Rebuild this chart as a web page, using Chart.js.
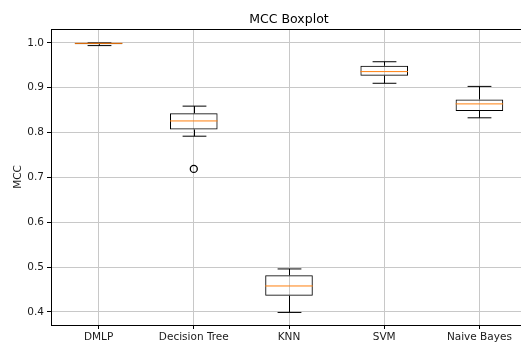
<!DOCTYPE html>
<html>
<head>
<meta charset="utf-8">
<script src="https://cdn.jsdelivr.net/npm/chart.js@4"></script>
<style>
  html, body { margin: 0; padding: 0; background: #fff; overflow: hidden; }
  #wrap { width: 578px; height: 344px; }
</style>
</head>
<body>
<div id="wrap"><canvas id="chart" width="578" height="344"></canvas></div>
<script>
// Data kotak
const labels = ["DMLP", "Decision Tree", "KNN", "SVM", "Naive Bayes"];
const whiskerLow = [0.994, 0.792, 0.399, 0.910, 0.833];
const q1 = [0.997, 0.807, 0.436, 0.927, 0.848];
const median = [0.999, 0.826, 0.458, 0.936, 0.864];
const q3 = [1.000, 0.843, 0.482, 0.949, 0.874];
const whiskerHigh = [1.000, 0.859, 0.496, 0.958, 0.903];
const outliers = [null, 0.719, null, null, null];
const yTicks = [0.4, 0.5, 0.6, 0.7, 0.8, 0.9, 1.0];

const font = "'DejaVu Sans', sans-serif";
Chart.defaults.font.family = font;
Chart.defaults.color = "#1a1a1a";

// Plugin untuk whisker, median dan garis atas
const boxExtras = {
  id: "boxExtras",
  beforeDatasetsDraw(chart) {
    const ctx = chart.ctx;
    const x = chart.scales.x;
    const y = chart.scales.y;
    const meta = chart.getDatasetMeta(0);
    ctx.save();
    ctx.strokeStyle = "#000";
    ctx.lineWidth = 1;
    labels.forEach((_, i) => {
      const cx = Math.round(x.getPixelForValue(i)) + 0.5;
      const half = meta.data[i].width / 2;
      const cap = half / 2;
      const yl = y.getPixelForValue(whiskerLow[i]);
      const yq1 = y.getPixelForValue(q1[i]);
      const yq3 = y.getPixelForValue(q3[i]);
      const yh = y.getPixelForValue(whiskerHigh[i]);
      ctx.beginPath();
      ctx.moveTo(cx, yq3); ctx.lineTo(cx, yh);
      ctx.moveTo(cx, yq1); ctx.lineTo(cx, yl);
      ctx.moveTo(cx - cap, yh); ctx.lineTo(cx + cap, yh);
      ctx.moveTo(cx - cap, yl); ctx.lineTo(cx + cap, yl);
      ctx.stroke();
    });
    ctx.restore();
  },
  afterDatasetsDraw(chart) {
    const ctx = chart.ctx;
    const x = chart.scales.x;
    const y = chart.scales.y;
    const meta = chart.getDatasetMeta(0);
    ctx.save();
    ctx.strokeStyle = "#ff7f0e";
    ctx.lineWidth = 1;
    labels.forEach((_, i) => {
      const cx = x.getPixelForValue(i);
      const half = meta.data[i].width / 2;
      const ym = y.getPixelForValue(median[i]);
      ctx.beginPath();
      ctx.moveTo(cx - half, ym);
      ctx.lineTo(cx + half, ym);
      ctx.stroke();
    });
    // garis atas (spine)
    const area = chart.chartArea;
    ctx.strokeStyle = "#000";
    ctx.beginPath();
    ctx.moveTo(area.left, Math.round(area.top) + 0.5);
    ctx.lineTo(area.right, Math.round(area.top) + 0.5);
    ctx.stroke();
    ctx.restore();
  }
};

new Chart(document.getElementById("chart"), {
  type: "bar",
  data: {
    labels: labels,
    datasets: [
      {
        type: "bar",
        data: labels.map((_, i) => [q1[i], q3[i]]),
        backgroundColor: "rgba(0,0,0,0)",
        borderColor: "#000",
        borderWidth: 1,
        borderSkipped: false,
        barPercentage: 0.5,
        categoryPercentage: 1,
      },
      {
        type: "line",
        data: outliers,
        showLine: false,
        pointStyle: "circle",
        pointRadius: 3.5,
        pointBorderWidth: 1.3,
        pointBorderColor: "#000",
        pointBackgroundColor: "rgba(0,0,0,0)",
      },
    ],
  },
  options: {
    responsive: false,
    animation: false,
    layout: { padding: 0 },
    plugins: {
      legend: { display: false },
      tooltip: { enabled: false },
      title: {
        display: true,
        text: "MCC Boxplot",
        color: "#000",
        font: { size: 12.5, weight: "normal" },
        padding: { top: 12, bottom: 2 },
      },
    },
    scales: {
      x: {
        offset: true,
        grid: { offset: false, color: "#c8c8c8", tickColor: "#000", tickLength: 4 },
        border: { color: "#000", width: 1 },
        ticks: { font: { size: 10.5 }, padding: 2, maxRotation: 0 },
        afterFit: (s) => { s.height = 19; },
      },
      y: {
        min: 0.371,
        max: 1.031,
        grid: { color: "#c8c8c8", tickColor: "#000", tickLength: 4 },
        border: { color: "#000", width: 1 },
        ticks: {
          font: { size: 10.5 },
          padding: 3,
          callback: (v) => v.toFixed(1),
        },
        afterBuildTicks: (s) => { s.ticks = yTicks.map((v) => ({ value: v })); },
        afterFit: (s) => { s.width = 51; },
        title: {
          display: true,
          text: "MCC",
          font: { size: 10.5 },
          padding: { top: 12, bottom: 0 },
        },
      },
      // sumbu kosong di kanan agar judul tepat di tengah area plot
      yRight: {
        type: "linear",
        position: "right",
        grid: { drawOnChartArea: false, drawTicks: false },
        border: { display: false },
        ticks: { display: false },
        afterFit: (s) => { s.width = 51; },
      },
    },
  },
  plugins: [boxExtras],
});
</script>
</body>
</html>
